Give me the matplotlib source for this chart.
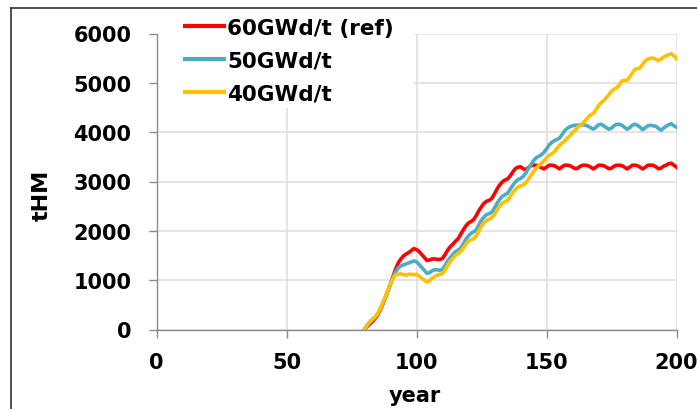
import matplotlib
matplotlib.use("Agg")
import matplotlib.pyplot as plt
from matplotlib.patches import Rectangle
from matplotlib.lines import Line2D

years = list(range(80, 201))

red_60 = [
    0, 60, 110, 160, 220, 290, 390, 510, 640, 780,          # 80-89
    930, 1080, 1230, 1350, 1430, 1490, 1530, 1560, 1600, 1640,  # 90-99
    1620, 1580, 1520, 1460, 1400, 1410, 1430, 1430, 1420, 1420,  # 100-109
    1440, 1520, 1610, 1680, 1730, 1790, 1840, 1930, 2020, 2100,  # 110-119
    2160, 2190, 2230, 2310, 2410, 2490, 2560, 2600, 2620, 2660,  # 120-129
    2750, 2850, 2930, 2990, 3030, 3050, 3110, 3190, 3260, 3290,  # 130-139
    3300, 3260, 3240, 3280, 3320, 3330, 3330, 3310, 3280, 3255,  # 140-149
    3290, 3330, 3330, 3320, 3290, 3255, 3300, 3330, 3330, 3320,  # 150-159
    3290, 3260, 3270, 3310, 3330, 3330, 3320, 3290, 3255, 3290,  # 160-169
    3330, 3330, 3320, 3290, 3260, 3270, 3310, 3330, 3330, 3320,  # 170-179
    3290, 3255, 3290, 3330, 3330, 3320, 3290, 3255, 3290, 3330,  # 180-189
    3330, 3330, 3300, 3260, 3270, 3310, 3330, 3360, 3370, 3330,  # 190-199
    3290,                                                        # 200
]

blue_50 = [
    0, 90, 150, 200, 250, 310, 410, 530, 650, 790,
    930, 1060, 1170, 1250, 1290, 1310, 1330, 1350, 1370, 1390,
    1370, 1320, 1260, 1200, 1140, 1150, 1190, 1210, 1210, 1200,
    1220, 1300, 1390, 1460, 1520, 1580, 1610, 1650, 1740, 1830,
    1900, 1950, 1980, 2020, 2120, 2220, 2280, 2330, 2350, 2380,
    2460, 2560, 2640, 2700, 2730, 2760, 2840, 2920, 2990, 3040,
    3060, 3100, 3170, 3260, 3340, 3420, 3480, 3510, 3540, 3590,
    3660, 3740, 3790, 3830, 3850, 3880, 3950, 4030, 4080, 4110,
    4130, 4140, 4140, 4150, 4150, 4140, 4120, 4090, 4060, 4100,
    4150, 4160, 4130, 4090, 4060, 4080, 4130, 4160, 4160, 4140,
    4100, 4060, 4090, 4140, 4160, 4140, 4100, 4050, 4090, 4130,
    4140, 4130, 4120, 4080, 4040, 4080, 4120, 4150, 4170, 4130,
    4100,
]

yellow_40 = [
    0, 80, 150, 200, 250, 320, 420, 540, 660, 800,
    930, 1040, 1110, 1120, 1130, 1110, 1100, 1120, 1120, 1110,
    1120, 1080, 1040, 1000, 960, 990, 1040, 1070, 1100, 1120,
    1130, 1210, 1300, 1380, 1440, 1500, 1540, 1580, 1650, 1730,
    1790, 1820, 1840, 1900, 2000, 2100, 2170, 2210, 2240, 2270,
    2330, 2420, 2500, 2560, 2590, 2620, 2690, 2770, 2840, 2890,
    2910, 2930, 2970, 3040, 3120, 3200, 3270, 3320, 3370, 3420,
    3480, 3530, 3560, 3600, 3670, 3730, 3780, 3820, 3880, 3930,
    3990, 4040, 4100, 4140, 4180, 4240, 4300, 4350, 4380, 4450,
    4540, 4600, 4640, 4700, 4760, 4830, 4870, 4900, 4960, 5040,
    5050, 5050, 5120, 5200, 5270, 5290, 5300, 5380, 5450, 5480,
    5500, 5500, 5480, 5450, 5480, 5520, 5550, 5570, 5590, 5550,
    5490,
]

series_labels = ["60GWd/t (ref)", "50GWd/t", "40GWd/t"]
series_colors = ["#FF0000", "#4BACC6", "#FFC000"]
x_ticks = [0, 50, 100, 150, 200]
y_ticks = [0, 1000, 2000, 3000, 4000, 5000, 6000]

FONT = "DejaVu Sans"
FS = 15

fig = plt.figure(figsize=(6.97, 4.10), dpi=100)
ax = fig.add_axes([156.5 / 697, 1 - 330.5 / 410, 520 / 697, 296 / 410])

ax.set_xlim(0, 200)
ax.set_ylim(0, 6000)
ax.set_xticks(x_ticks)
ax.set_yticks(y_ticks)
ax.set_axisbelow(True)
ax.grid(True, color="#DCDCDC", linewidth=1.1)

# white area behind legend hiding grid
ax.add_patch(Rectangle((0.003, 4500 / 6000), 0.4945 - 0.003, 1.02 - 4500 / 6000,
                       transform=ax.transAxes, facecolor="white", edgecolor="none",
                       zorder=0.8, clip_on=False))

lines = []
for vals, lab, col in zip([red_60, blue_50, yellow_40], series_labels, series_colors):
    ln, = ax.plot(years, vals, color=col, linewidth=2.6, label=lab, zorder=2,
                  solid_joinstyle="round")
    lines.append(ln)

for s in ["top", "right"]:
    ax.spines[s].set_visible(False)
for s in ["left", "bottom"]:
    ax.spines[s].set_color("#8C8C8C")
    ax.spines[s].set_linewidth(1.0)

ax.tick_params(axis="both", direction="out", length=6, width=1, color="#8C8C8C",
               labelsize=FS)
ax.tick_params(axis="y", pad=12)
ax.tick_params(axis="x", pad=10)
for t in ax.get_xticklabels() + ax.get_yticklabels():
    t.set_fontfamily(FONT)
    t.set_fontweight("bold")

fig.text(42 / 697, 1 - 195 / 410, "tHM", rotation=90, ha="center", va="center",
         fontsize=16, fontweight="bold", family=FONT)
fig.text(415 / 697, 1 - 396 / 410, "year", ha="center", va="center",
         fontsize=FS, fontweight="bold", family=FONT)

leg = fig.legend(handles=lines, loc="upper left",
                 bbox_to_anchor=(185 / 697, 1 - 19 / 410),
                 frameon=False, prop={"family": FONT, "weight": "bold", "size": 15.5},
                 handlelength=1.8, handletextpad=0.15, labelspacing=0.6,
                 borderpad=0.0, borderaxespad=0.0)
for h in leg.get_lines():
    h.set_linewidth(3.0)

# outer frame (top and left edges visible)
fig.add_artist(Line2D([11 / 697, 1.0], [1 - 9 / 410, 1 - 9 / 410], color="#333333",
                      linewidth=1.2, transform=fig.transFigure))
fig.add_artist(Line2D([11 / 697, 11 / 697], [0.0, 1 - 9 / 410], color="#333333",
                      linewidth=1.2, transform=fig.transFigure))

fig.savefig("out.png", dpi=100)
